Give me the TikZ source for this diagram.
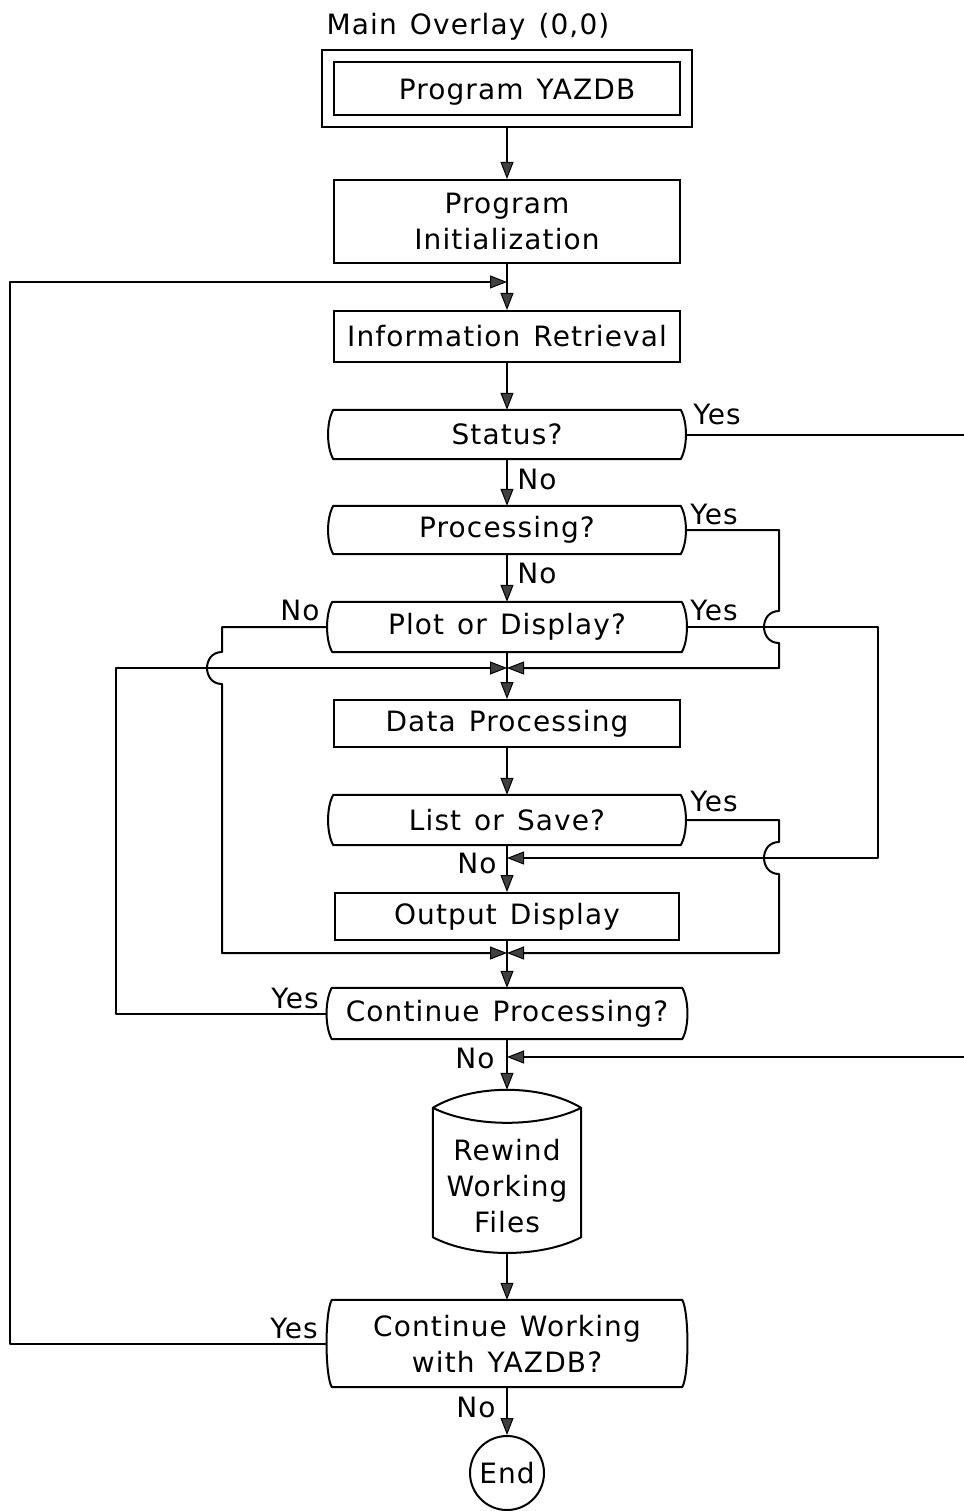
\documentclass[tikz,border=0pt]{standalone}
\usepackage{fontspec}
\setmainfont{DejaVu Sans}[LetterSpace=4,WordSpace=1.3]
\usetikzlibrary{arrows.meta,calc}

\tikzset{
  every node/.style={font=\fontsize{28}{36}\selectfont},
  wire/.style={line width=2pt, line join=round},
  flow/.style={wire, -{Triangle[length=17pt,width=13pt,fill=gray!50!black,line width=1pt]}},
  box/.style={draw, line width=2pt, inner sep=0pt, align=center, minimum width=346pt},
  decbody/.style={inner sep=0pt, align=center},
  tag/.style={inner sep=0pt},
  hop/.style={out=180,in=180,looseness=1.6},
}

% decision block: name, x, y, width, height, text
\newcommand\decnode[6]{%
  \node[decbody, minimum width=#4pt, minimum height=#5pt] (#1) at (#2,#3) {#6};
  \draw[wire] (#1.north west) -- (#1.north east)
    .. controls +(7,12) and +(7,-12) .. (#1.south east) -- (#1.south west)
    .. controls +(-7,-12) and +(-7,12) .. (#1.north west) -- cycle;
  \coordinate (#1-e) at ($(#1.east)+(5,0)$);
  \coordinate (#1-w) at ($(#1.west)+(-5,0)$);
}

\begin{document}
\begin{tikzpicture}[x=1pt,y=-1pt]
\useasboundingbox (0,0) rectangle (963,1511);

% ---- blocks ----
\node[tag] (title) at (468,27) {Main Overlay (0,0)};
\node[box, minimum width=370pt, minimum height=77pt] (outer) at (507,88.5) {};
\node[box, minimum height=53pt,
      label={[xshift=10pt,yshift=-4pt]center:Program YAZDB}] (yazdb) at (507,88.5) {};
\node[box, minimum height=83pt] (init) at (507,221.5) {Program\\Initialization};
\node[box, minimum height=51pt] (info) at (507,336.5) {Information Retrieval};
\decnode{status}{507}{434.5}{347}{49}{Status?}
\decnode{proc}{507}{530}{347}{48}{Processing?}
\decnode{plot}{507}{627}{349}{50}{Plot or Display?}
\node[box, minimum height=47pt] (data) at (507,723.5) {Data Processing};
\decnode{list}{507}{820}{347}{50}{List or Save?}
\node[box, minimum width=344pt, minimum height=47pt] (outd) at (507,916.5) {Output Display};
\decnode{contp}{507}{1013.5}{350}{51}{Continue Processing?}

% drum (working files)
\node[decbody, minimum width=148pt, minimum height=129pt,
      label={[align=center,yshift=-14pt]center:{Rewind\\Working\\Files}}] (drum) at (507,1172.5) {};
\draw[wire] (drum.north west) .. controls +(40,-24) and +(-40,-24) .. (drum.north east)
  .. controls +(-40,20) and +(40,20) .. (drum.north west)
  -- (drum.south west) .. controls +(40,21) and +(-40,21) .. (drum.south east)
  -- (drum.north east);
\coordinate (drum-top) at ($(drum.north)+(0,-18)$);
\coordinate (drum-bot) at ($(drum.south)+(0,16)$);

\decnode{contw}{507}{1343.5}{350}{87}{Continue Working\\with YAZDB?}
\node[draw, circle, line width=2pt, minimum size=74pt, inner sep=0pt] (end) at (507,1473) {End};

% ---- junctions on the main line ----
\coordinate (j1) at (507,282);
\coordinate (j2) at (507,668);
\coordinate (j3) at (507,858);
\coordinate (j4) at (507,953);
\coordinate (j5) at (507,1057);

% ---- main flow ----
\draw[flow] (outer) -- (init);
\draw[flow] (init) -- (info);
\draw[flow] (info) -- (status);
\draw[flow] (status) -- (proc);
\draw[flow] (proc) -- (plot);
\draw[flow] (plot) -- (data);
\draw[flow] (data) -- (list);
\draw[flow] (list) -- (outd);
\draw[flow] (outd) -- (contp);
\draw[flow] (contp) -- (drum-top);
\draw[flow] (drum-bot) -- (contw);
\draw[flow] (contw) -- (end);

% ---- branches ----
\draw[flow] (contw-w) -- (10,1343.5) -- (10,282) -- (j1);
\draw[flow] (status-e) -- (990,434.5) -- (990,1057) -- (j5);
\draw[flow] (proc-e) -- (779,530) -- (779,611) to[hop] (779,643) -- (779,668) -- (j2);
\draw[flow] (plot-e) -- (878,627) -- (878,858) -- (j3);
\draw[flow] (plot-w) -- (222,627) -- (222,652) to[hop] (222,684) -- (222,953) -- (j4);
\draw[flow] (list-e) -- (779,820) -- (779,842) to[hop] (779,874) -- (779,953) -- (j4);
\draw[flow] (contp-w) -- (116,1013.5) -- (116,668) -- (j2);

% ---- branch labels ----
\node[tag] at (717,414) {Yes};
\node[tag] at (537,479) {No};
\node[tag] at (714,514) {Yes};
\node[tag] at (537,573) {No};
\node[tag] at (300,610) {No};
\node[tag] at (714,610) {Yes};
\node[tag] at (714,801) {Yes};
\node[tag] at (477,863) {No};
\node[tag] at (295,998) {Yes};
\node[tag] at (475,1058) {No};
\node[tag] at (294,1328) {Yes};
\node[tag] at (476,1407) {No};
\end{tikzpicture}
\end{document}
